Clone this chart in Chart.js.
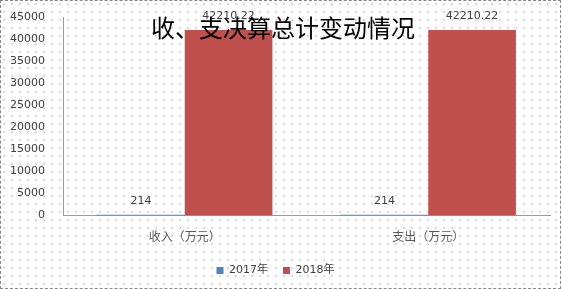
<!DOCTYPE html>
<html>
<head>
<meta charset="utf-8">
<script src="https://cdn.jsdelivr.net/npm/chart.js@4"></script>
<style>
  html, body { margin: 0; padding: 0; }
  body {
    width: 561px; height: 289px; overflow: hidden;
    background-color: #fff;
    background-image: radial-gradient(#c4c4c4 0.6px, transparent 0.9px);
    background-size: 8px 8px;
  }
  #wrap { position: relative; width: 561px; height: 289px; box-sizing: border-box; border: 1px dashed #888; }
  canvas { position: absolute; left: 0; top: 0; }
</style>
</head>
<body>
<div id="wrap"><canvas id="chart" width="561" height="289"></canvas></div>
<script>
// chart data
const categories = ['收入（万元）', '支出（万元）'];
const seriesNames = ['2017年', '2018年'];
const values2017 = [214, 214];
const values2018 = [42210.22, 42210.22];
const valueLabels2017 = ['214', '214'];
const valueLabels2018 = ['42210.22', '42210.22'];
const yTicks = [0, 5000, 10000, 15000, 20000, 25000, 30000, 35000, 40000, 45000];
const titleText = '收、支决算总计变动情况';

const cjk = '"Noto Sans CJK SC", "Noto Sans", sans-serif';
const num = '"DejaVu Sans", "Noto Sans CJK SC", sans-serif';

// value labels above bars
const valueLabelPlugin = {
    id: 'valueLabels',
    afterDatasetsDraw(chart) {
        const ctx = chart.ctx;
        const labelSets = [valueLabels2017, valueLabels2018];
        ctx.save();
        ctx.font = '11px ' + num;
        ctx.fillStyle = '#404040';
        ctx.textAlign = 'center';
        ctx.textBaseline = 'middle';
        chart.data.datasets.forEach((ds, i) => {
            chart.getDatasetMeta(i).data.forEach((bar, j) => {
                ctx.fillText(labelSets[i][j], bar.x, bar.y - 14);
            });
        });
        ctx.restore();
    }
};

// title drawn over the plot, like the original
const titlePlugin = {
    id: 'overTitle',
    afterDraw(chart) {
        const ctx = chart.ctx;
        ctx.save();
        ctx.font = '24px ' + cjk;
        ctx.fillStyle = '#000';
        ctx.textAlign = 'center';
        ctx.textBaseline = 'middle';
        ctx.fillText(titleText, 282, 27);
        ctx.restore();
    }
};

new Chart(document.getElementById('chart'), {
    type: 'bar',
    data: {
        labels: categories,
        datasets: [
            { label: seriesNames[0], data: values2017, backgroundColor: '#4F81BD' },
            { label: seriesNames[1], data: values2018, backgroundColor: '#C0504D' }
        ]
    },
    options: {
        responsive: false,
        animation: false,
        layout: { padding: { left: 0, right: 12, top: 15, bottom: 4 } },
        datasets: { bar: { categoryPercentage: 0.72, barPercentage: 1 } },
        plugins: {
            title: { display: false },
            tooltip: { enabled: false },
            legend: {
                position: 'bottom',
                labels: {
                    boxWidth: 7, boxHeight: 7, padding: 15,
                    color: '#404040',
                    font: { family: num, size: 11 }
                }
            }
        },
        scales: {
            x: {
                grid: { display: false },
                border: { color: '#999', width: 1 },
                ticks: { color: '#595959', font: { family: cjk, size: 12 }, padding: 6 }
            },
            y: {
                min: 0,
                max: 45000,
                grid: { display: false },
                border: { color: '#999', width: 1, dash: [2, 2] },
                afterFit(scale) { scale.width = 62; },
                afterBuildTicks(scale) { scale.ticks = yTicks.map(v => ({ value: v })); },
                ticks: {
                    color: '#404040', font: { family: num, size: 11 }, padding: 10,
                    callback: v => String(v)
                }
            }
        }
    },
    plugins: [valueLabelPlugin, titlePlugin]
});
</script>
</body>
</html>
